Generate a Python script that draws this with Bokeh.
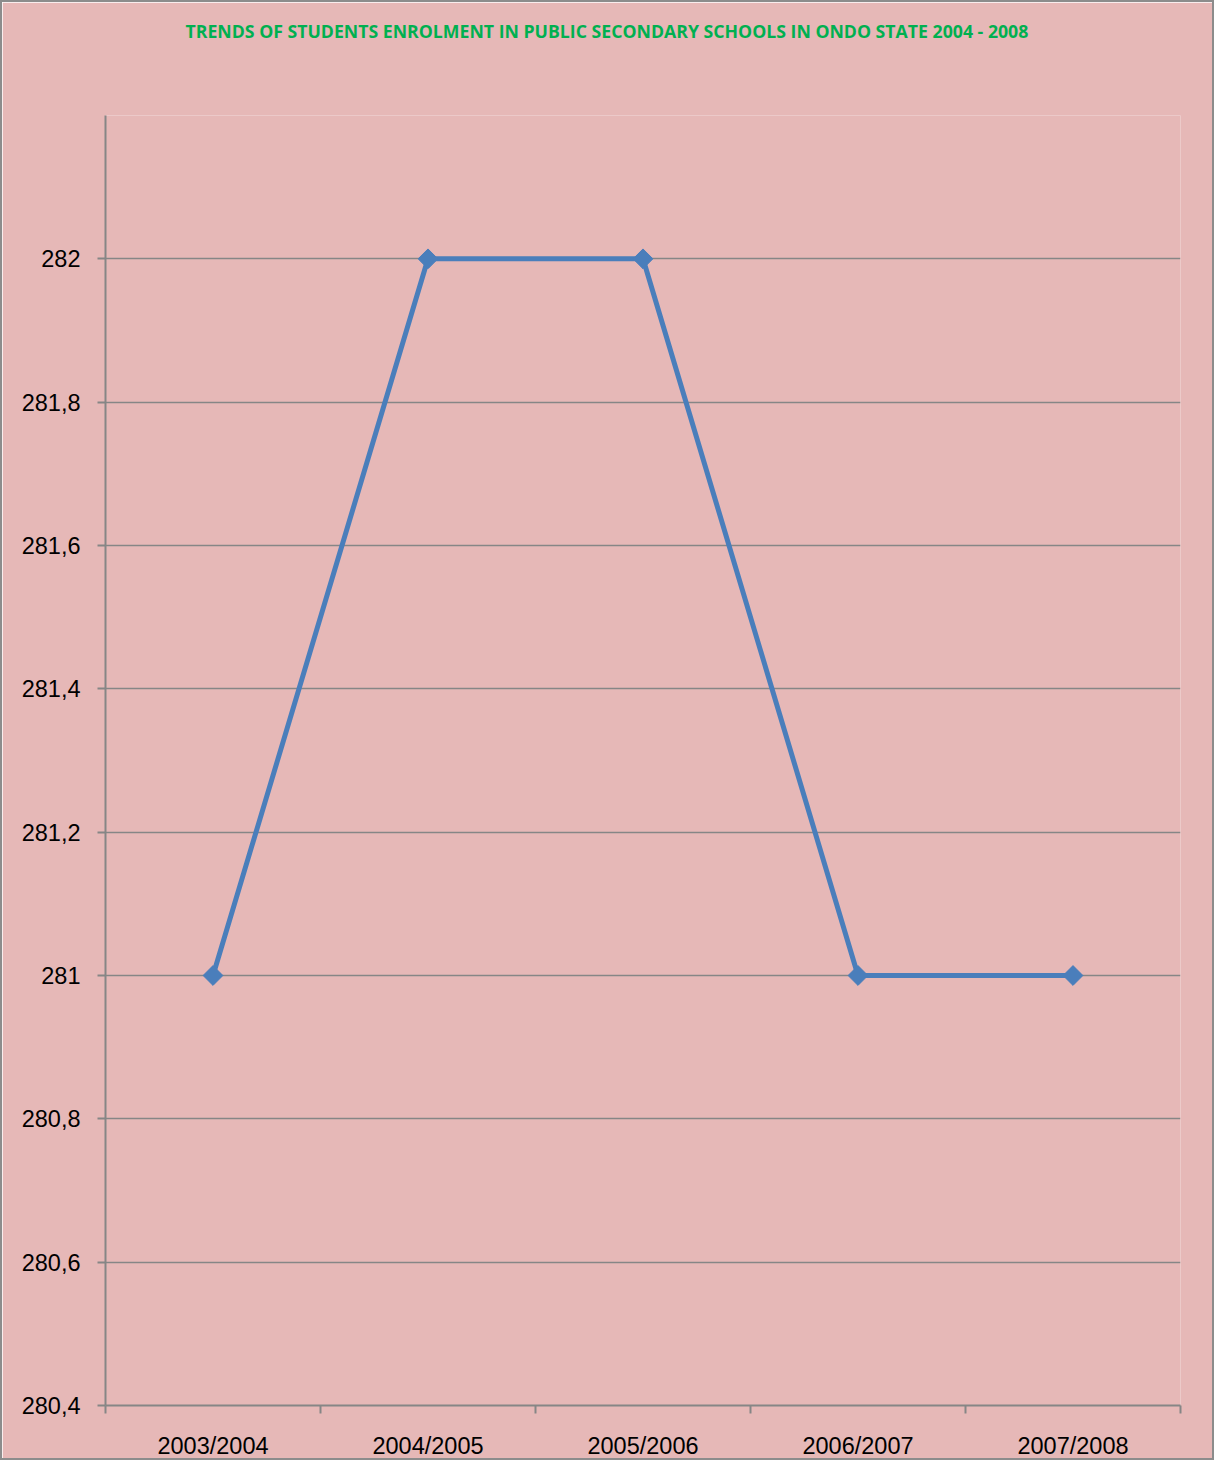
import math
from bokeh.plotting import figure
from bokeh.models import FixedTicker, Range1d, Title
from bokeh.embed import file_html
from bokeh.resources import INLINE

title_text = "TRENDS OF STUDENTS ENROLMENT IN PUBLIC SECONDARY SCHOOLS IN ONDO STATE 2004 - 2008"
categories = ["2003/2004", "2004/2005", "2005/2006", "2006/2007", "2007/2008"]
enrolment = [281, 282, 282, 281, 281]
y_ticks = [280.4, 280.6, 280.8, 281.0, 281.2, 281.4, 281.6, 281.8, 282.0]
y_tick_labels = ["280,4", "280,6", "280,8", "281", "281,2", "281,4", "281,6", "281,8", "282"]

BG = "#E6B8B7"
GRID = "#868686"
BLUE = "#4A7EBB"

xs = [i + 0.5 for i in range(len(categories))]

p = figure(width=1214, height=1460, output_backend="svg", toolbar_location=None,
           x_range=Range1d(0, len(categories)), y_range=Range1d(280.4, 282.2),
           min_border_left=103, min_border_right=36, min_border_top=113, min_border_bottom=57)
p.background_fill_color = BG
p.border_fill_color = BG
p.outline_line_color = None
p.styles = {"border": "2px solid #8C8C8C", "box-sizing": "border-box"}

# spacer between frame and title, then the title itself (stacked outward)
p.add_layout(Title(text=" ", text_font_size="10px", standoff=60), "above")
p.add_layout(Title(text=title_text, align="left", offset=80, standoff=0,
                   text_color="#00B050", text_font="Open Sans",
                   text_font_size="17.7px", text_font_style="bold"), "above")

p.line(xs, enrolment, line_color=BLUE, line_width=5)
p.scatter(xs, enrolment, marker="square", angle=math.pi / 4, size=14,
          fill_color=BLUE, line_color=BLUE)

# x axis
p.xaxis.ticker = FixedTicker(ticks=xs, minor_ticks=list(range(len(categories) + 1)))
p.xaxis.major_label_overrides = {x: c for x, c in zip(xs, categories)}
p.xaxis.major_tick_out = 0
p.xaxis.major_tick_in = 0
p.xaxis.minor_tick_out = 8
p.xaxis.minor_tick_in = 0
p.xaxis.minor_tick_line_color = GRID
p.xaxis.minor_tick_line_width = 2
p.xaxis.major_label_standoff = 19

# y axis
p.yaxis.ticker = FixedTicker(ticks=y_ticks)
p.yaxis.major_label_overrides = {t: l for t, l in zip(y_ticks, y_tick_labels)}
p.yaxis.major_tick_out = 8
p.yaxis.major_tick_in = 0
p.yaxis.minor_tick_line_color = None
p.yaxis.major_label_standoff = 17

for ax in (p.xaxis, p.yaxis):
    ax.axis_line_color = GRID
    ax.axis_line_width = 2
    ax.major_tick_line_color = GRID
    ax.major_tick_line_width = 2
    ax.major_label_text_font = "Liberation Sans"
    ax.major_label_text_font_size = "23.5px"
    ax.major_label_text_color = "#000000"

p.xgrid.grid_line_color = None
p.ygrid.ticker = FixedTicker(ticks=y_ticks[1:])
p.ygrid.grid_line_color = GRID
p.ygrid.grid_line_width = 1.5

open("out.html", "w").write(file_html(p, INLINE))
